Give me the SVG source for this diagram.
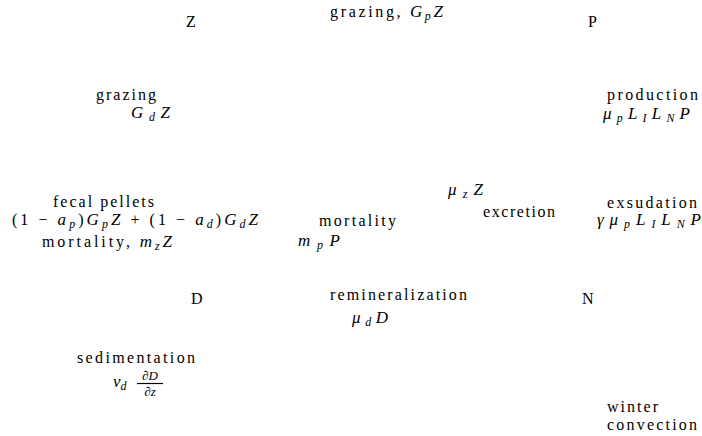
<svg xmlns="http://www.w3.org/2000/svg" width="702" height="436" viewBox="0 0 702 436">
<style>
text{font-family:"Liberation Serif","DejaVu Serif",serif;font-size:16px;fill:#000}
.i{font-style:italic;font-size:17px}
.s{font-style:italic;font-size:12px}
.f{font-style:italic;font-size:13px}
</style>
<rect width="702" height="436" fill="#fff"/>
<g id="connectors"></g>
<g id="node-Z"><text x="186" y="27">Z</text></g>
<g id="node-P"><text x="588" y="27">P</text></g>
<g id="node-D"><text x="191" y="304">D</text></g>
<g id="node-N"><text x="582" y="304">N</text></g>
<g id="label-grazing-p"><text x="330" y="17" textLength="113" lengthAdjust="spacing">grazing, <tspan class="i">G</tspan><tspan class="s" dy="3">p</tspan><tspan class="i" dy="-3">Z</tspan></text></g>
<g id="label-grazing-d">
<text x="96" y="100" textLength="60" lengthAdjust="spacing">grazing</text>
<text x="131" y="118" textLength="39" lengthAdjust="spacing"><tspan class="i">G</tspan><tspan class="s" dy="3">d</tspan><tspan class="i" dy="-3">Z</tspan></text>
</g>
<g id="label-production">
<text x="607" y="100" textLength="91" lengthAdjust="spacing">production</text>
<text x="603" y="119" textLength="87" lengthAdjust="spacing"><tspan class="i">μ</tspan><tspan class="s" dy="3">p</tspan><tspan class="i" dy="-3">L</tspan><tspan class="s" dy="3">I</tspan><tspan class="i" dy="-3">L</tspan><tspan class="s" dy="3">N</tspan><tspan class="i" dy="-3">P</tspan></text>
</g>
<g id="label-excretion">
<text x="448" y="195" textLength="35" lengthAdjust="spacing"><tspan class="i">μ</tspan><tspan class="s" dy="3">z</tspan><tspan class="i" dy="-3">Z</tspan></text>
<text x="483" y="217" textLength="72" lengthAdjust="spacing">excretion</text>
</g>
<g id="label-fecal">
<text x="53" y="207" textLength="101" lengthAdjust="spacing">fecal pellets</text>
<text x="12" y="225" textLength="246" lengthAdjust="spacing">(1 − <tspan class="i">a</tspan><tspan class="s" dy="3">p</tspan><tspan dy="-3">)</tspan><tspan class="i">G</tspan><tspan class="s" dy="3">p</tspan><tspan class="i" dy="-3">Z</tspan> + (1 − <tspan class="i">a</tspan><tspan class="s" dy="3">d</tspan><tspan dy="-3">)</tspan><tspan class="i">G</tspan><tspan class="s" dy="3">d</tspan><tspan class="i" dy="-3">Z</tspan></text>
<text x="42" y="247" textLength="130" lengthAdjust="spacing">mortality, <tspan class="i">m</tspan><tspan class="s" dy="3">z</tspan><tspan class="i" dy="-3">Z</tspan></text>
</g>
<g id="label-mortality-p">
<text x="319" y="226" textLength="77" lengthAdjust="spacing">mortality</text>
<text x="298" y="246" textLength="42" lengthAdjust="spacing"><tspan class="i">m</tspan><tspan class="s" dy="3">p</tspan><tspan class="i" dy="-3">P</tspan></text>
</g>
<g id="label-exsudation">
<text x="607" y="208" textLength="90" lengthAdjust="spacing">exsudation</text>
<text x="597" y="225" textLength="104" lengthAdjust="spacing"><tspan class="i">γμ</tspan><tspan class="s" dy="3">p</tspan><tspan class="i" dy="-3">L</tspan><tspan class="s" dy="3">I</tspan><tspan class="i" dy="-3">L</tspan><tspan class="s" dy="3">N</tspan><tspan class="i" dy="-3">P</tspan></text>
</g>
<g id="label-remineralization">
<text x="330" y="300" textLength="137" lengthAdjust="spacing">remineralization</text>
<text x="352" y="323" textLength="36" lengthAdjust="spacing"><tspan class="i">μ</tspan><tspan class="s" dy="3">d</tspan><tspan class="i" dy="-3">D</tspan></text>
</g>
<g id="label-sedimentation">
<text x="77" y="363" textLength="118" lengthAdjust="spacing">sedimentation</text>
<text x="113" y="387"><tspan class="i">v</tspan><tspan class="s" dy="3">d</tspan></text>
<text x="150" y="380" class="f" text-anchor="middle">∂D</text>
<line x1="137" y1="383.5" x2="163" y2="383.5" stroke="#000" stroke-width="1.2"/>
<text x="150" y="396" class="f" text-anchor="middle">∂z</text>
</g>
<g id="label-winter">
<text x="607" y="412" textLength="51" lengthAdjust="spacing">winter</text>
<text x="607" y="430" textLength="90" lengthAdjust="spacing">convection</text>
</g>
</svg>
